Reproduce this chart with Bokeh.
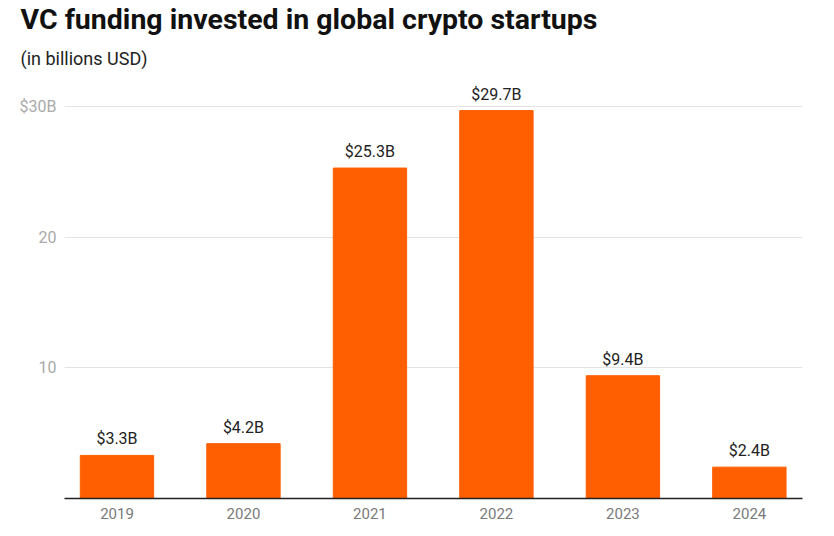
from bokeh.plotting import figure
from bokeh.models import Range1d, FixedTicker, Title, ColumnDataSource, LabelSet
from bokeh.core.properties import value
from bokeh.embed import file_html
from bokeh.resources import INLINE
import numpy as np

years = ["2019", "2020", "2021", "2022", "2023", "2024"]
funding = [3.3, 4.2, 25.3, 29.7, 9.4, 2.4]
bar_labels = ["$3.3B", "$4.2B", "$25.3B", "$29.7B", "$9.4B", "$2.4B"]
y_ticks = [10, 20, 30]
y_tick_labels = {30: "$30B", 20: "20", 10: "10"}

FONT = "Roboto"
xs = np.arange(len(years))
src = ColumnDataSource(dict(x=xs, top=funding, lab=bar_labels))

p = figure(width=834, height=536, output_backend="svg", toolbar_location=None,
           x_range=Range1d(-0.415, len(years) - 1 + 0.42), y_range=Range1d(0, 32.08),
           min_border_left=64, min_border_right=32, min_border_bottom=38, min_border_top=0)
p.outline_line_color = None
p.background_fill_color = "white"
p.border_fill_color = "white"

p.vbar(x="x", top="top", width=0.58, bottom=0, source=src, color="#FF5F00")
labels = LabelSet(x="x", y="top", text="lab", source=src, text_align="center",
                  text_baseline="alphabetic", y_offset=11, text_font=value(FONT),
                  text_font_size="16px", text_color="#222222")
p.add_layout(labels)

p.xgrid.grid_line_color = None
p.ygrid.ticker = FixedTicker(ticks=y_ticks)
p.ygrid.grid_line_color = "#e3e3e3"
p.ygrid.grid_line_width = 1

p.xaxis.ticker = FixedTicker(ticks=list(xs))
p.xaxis.major_label_overrides = {int(i): y for i, y in zip(xs, years)}
p.xaxis.major_tick_line_color = None
p.xaxis.major_tick_out = 0
p.xaxis.minor_tick_line_color = None
p.xaxis.axis_line_color = "#222222"
p.xaxis.axis_line_width = 1.5
p.xaxis.major_label_text_font = FONT
p.xaxis.major_label_text_font_size = "15px"
p.xaxis.major_label_text_color = "#7a7a7a"
p.xaxis.major_label_standoff = 9

p.yaxis.ticker = FixedTicker(ticks=y_ticks)
p.yaxis.major_label_overrides = y_tick_labels
p.yaxis.axis_line_color = None
p.yaxis.major_tick_line_color = None
p.yaxis.major_tick_out = 0
p.yaxis.minor_tick_line_color = None
p.yaxis.major_label_text_font = FONT
p.yaxis.major_label_text_font_size = "16px"
p.yaxis.major_label_text_color = "#aaaaaa"
p.yaxis.major_label_standoff = 8

sub = Title(text="(in billions USD)", align="left", offset=-44, text_font=FONT,
            text_font_size="18px", text_font_style="normal", text_color="#222222",
            standoff=21)
main = Title(text="VC funding invested in global crypto startups", align="left", offset=-44,
             text_font=FONT, text_font_size="28.5px", text_font_style="bold",
             text_color="#111111", standoff=0)
p.add_layout(sub, "above")
p.add_layout(main, "above")

open("out.html", "w").write(file_html(p, INLINE))
